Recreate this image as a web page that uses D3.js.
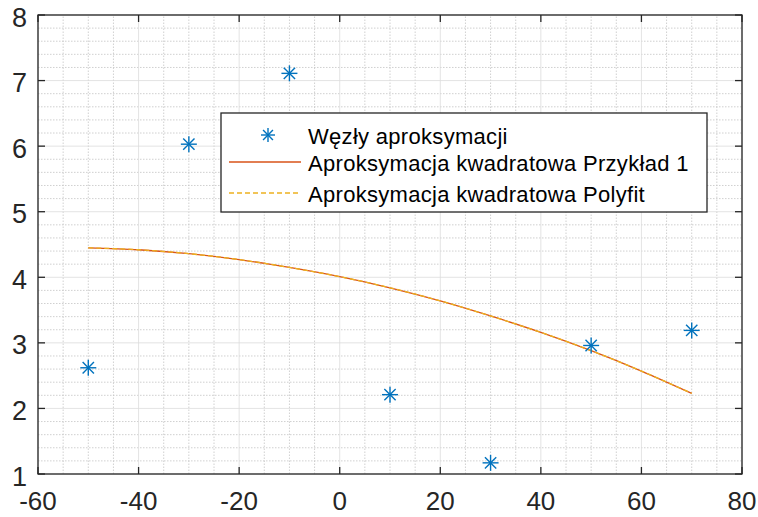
<!DOCTYPE html>
<html>
<head>
<meta charset="utf-8">
<script src="https://cdn.jsdelivr.net/npm/d3@7"></script>
<style>
  body { margin: 0; background: #fff; }
  svg { font-family: "Liberation Sans", Arial, sans-serif; }
</style>
</head>
<body>
<div id="chart"></div>
<script>
// nodes (data points)
var nodeX = [-50, -30, -10, 10, 30, 50, 70];
var nodeY = [2.62, 6.03, 7.11, 2.21, 1.17, 2.96, 3.19];

// quadratic approximation
var fitX = [-50, -40, -30, -20, -10, 0, 10, 20, 30, 40, 50, 60, 70];
var fitY = [4.45, 4.42, 4.36, 4.27, 4.15, 4.01, 3.84, 3.64, 3.41, 3.16, 2.88, 2.57, 2.23];

var xTicks = [-60, -40, -20, 0, 20, 40, 60, 80];
var yTicks = [1, 2, 3, 4, 5, 6, 7, 8];

var legendLabels = [
    'Węzły aproksymacji',
    'Aproksymacja kwadratowa Przykład 1',
    'Aproksymacja kwadratowa Polyfit'
];

var width = 758, height = 517;
var margin = { left: 38, right: 16, top: 15, bottom: 43 };

var svg = d3.select('#chart').append('svg')
    .attr('width', width)
    .attr('height', height);

var x = d3.scaleLinear().domain([-60, 80]).range([margin.left, width - margin.right]);
var y = d3.scaleLinear().domain([1, 8]).range([height - margin.bottom, margin.top]);

var x0 = x.range()[0], x1 = x.range()[1];
var y0 = y.range()[0], y1 = y.range()[1];

// minor grid
var minorX = d3.range(-60, 80.001, 5).filter(function(d) { return d % 20 !== 0; });
var minorY = d3.range(1, 8.001, 0.2).filter(function(d) { return Math.abs(d - Math.round(d)) > 1e-6; });

var grid = svg.append('g');
grid.selectAll('.mx').data(minorX).enter().append('line')
    .attr('x1', function(d) { return x(d); }).attr('x2', function(d) { return x(d); })
    .attr('y1', y0).attr('y2', y1)
    .attr('stroke', '#c4c4c4').attr('stroke-width', 0.8).attr('stroke-dasharray', '1.5,1.5');
grid.selectAll('.my').data(minorY).enter().append('line')
    .attr('y1', function(d) { return y(d); }).attr('y2', function(d) { return y(d); })
    .attr('x1', x0).attr('x2', x1)
    .attr('stroke', '#c4c4c4').attr('stroke-width', 0.8).attr('stroke-dasharray', '1.5,1.5');
// major grid
grid.selectAll('.gx').data(xTicks).enter().append('line')
    .attr('x1', function(d) { return x(d); }).attr('x2', function(d) { return x(d); })
    .attr('y1', y0).attr('y2', y1)
    .attr('stroke', '#dcdcdc').attr('stroke-width', 0.8);
grid.selectAll('.gy').data(yTicks).enter().append('line')
    .attr('y1', function(d) { return y(d); }).attr('y2', function(d) { return y(d); })
    .attr('x1', x0).attr('x2', x1)
    .attr('stroke', '#dcdcdc').attr('stroke-width', 0.8);

// fit lines
var line = d3.line()
    .x(function(d) { return x(d[0]); })
    .y(function(d) { return y(d[1]); })
    .curve(d3.curveNatural);
var fitData = fitX.map(function(d, i) { return [d, fitY[i]]; });

svg.append('path').datum(fitData)
    .attr('d', line).attr('fill', 'none')
    .attr('stroke', '#D95319').attr('stroke-width', 1.3);
svg.append('path').datum(fitData)
    .attr('d', line).attr('fill', 'none')
    .attr('stroke', '#EDB120').attr('stroke-width', 1.3).attr('stroke-dasharray', '5,3');

// asterisk marker
function star(g, cx, cy, r) {
    var a = r * Math.SQRT1_2;
    var segs = [[-r, 0, r, 0], [0, -r, 0, r], [-a, -a, a, a], [-a, a, a, -a]];
    segs.forEach(function(s) {
        g.append('line')
            .attr('x1', cx + s[0]).attr('y1', cy + s[1])
            .attr('x2', cx + s[2]).attr('y2', cy + s[3])
            .attr('stroke', '#0072BD').attr('stroke-width', 1.4);
    });
}
var pts = svg.append('g');
nodeX.forEach(function(d, i) { star(pts, x(d), y(nodeY[i]), 8); });

// axes box + ticks
var axisG = svg.append('g');
axisG.append('rect')
    .attr('x', x0).attr('y', y1).attr('width', x1 - x0).attr('height', y0 - y1)
    .attr('fill', 'none').attr('stroke', '#262626').attr('stroke-width', 1.3);

var tl = 7;
xTicks.forEach(function(d) {
    axisG.append('line').attr('x1', x(d)).attr('x2', x(d)).attr('y1', y0).attr('y2', y0 - tl)
        .attr('stroke', '#262626').attr('stroke-width', 1.3);
    axisG.append('line').attr('x1', x(d)).attr('x2', x(d)).attr('y1', y1).attr('y2', y1 + tl)
        .attr('stroke', '#262626').attr('stroke-width', 1.3);
    axisG.append('text').attr('x', x(d)).attr('y', y0 + 36)
        .attr('text-anchor', 'middle').attr('font-size', 26).attr('fill', '#262626')
        .text(d);
});
yTicks.forEach(function(d) {
    axisG.append('line').attr('x1', x0).attr('x2', x0 + tl).attr('y1', y(d)).attr('y2', y(d))
        .attr('stroke', '#262626').attr('stroke-width', 1.3);
    axisG.append('line').attr('x1', x1).attr('x2', x1 - tl).attr('y1', y(d)).attr('y2', y(d))
        .attr('stroke', '#262626').attr('stroke-width', 1.3);
    axisG.append('text').attr('x', x0 - 11).attr('y', y(d) + 11.5)
        .attr('text-anchor', 'end').attr('font-size', 27).attr('fill', '#262626')
        .text(d);
});

// legend
var lg = svg.append('g').attr('transform', 'translate(221,113)');
lg.append('rect').attr('width', 486).attr('height', 99)
    .attr('fill', '#fff').attr('stroke', '#262626').attr('stroke-width', 1.3);
var rowY = [22, 49, 80];
star(lg, 47, rowY[0], 7);
lg.append('line').attr('x1', 8).attr('x2', 80).attr('y1', rowY[1]).attr('y2', rowY[1])
    .attr('stroke', '#D95319').attr('stroke-width', 1.3);
lg.append('line').attr('x1', 8).attr('x2', 80).attr('y1', rowY[2]).attr('y2', rowY[2])
    .attr('stroke', '#EDB120').attr('stroke-width', 1.3).attr('stroke-dasharray', '5,3');
legendLabels.forEach(function(t, i) {
    lg.append('text').attr('x', 87).attr('y', rowY[i] + 8.5)
        .attr('font-size', 22).attr('letter-spacing', 0.3).attr('fill', '#000').text(t);
});
</script>
</body>
</html>
